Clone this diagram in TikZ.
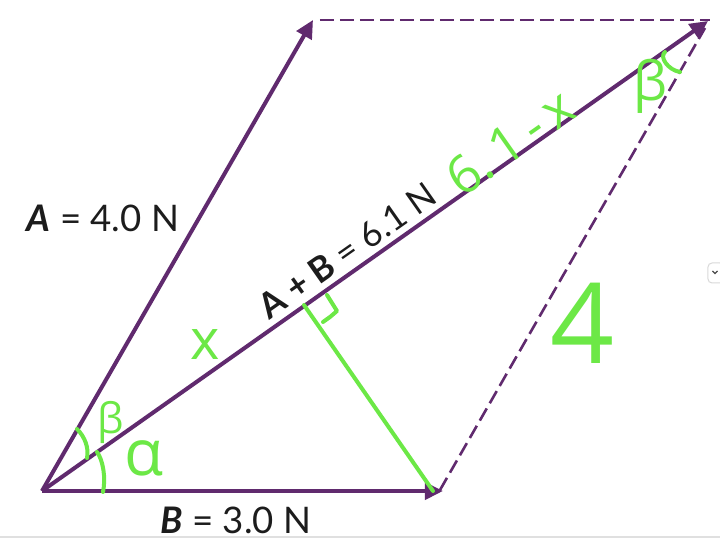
\documentclass[tikz,border=0pt]{standalone}
\usepackage{fontspec}
\setmainfont{Lato}
\newfontfamily\hand{Open Sans}
\usetikzlibrary{arrows.meta}
\definecolor{vpurple}{RGB}{96,42,110}
\definecolor{hgreen}{RGB}{108,232,70}
\definecolor{ink}{RGB}{28,28,28}
\begin{document}
\begin{tikzpicture}[x=0.5pt,y=-0.5pt,
  vec/.style={draw=vpurple, line width=2pt, -{Triangle[length=9pt,width=8.5pt]}},
  guide/.style={draw=vpurple, line width=1.3pt, dash pattern=on 7pt off 3pt},
  greenstroke/.style={draw=hgreen, line width=2pt, line cap=round, line join=round},
  hw/.style={text=hgreen, inner sep=0pt},
  lab/.style={text=ink, inner sep=0pt, font=\fontsize{18.3}{21}\selectfont}]
\useasboundingbox[fill=white] (0,0) rectangle (720,539);
% faint frame line at bottom
\draw[black!12, line width=0.6pt] (0,537) -- (720,537);
% small UI button at right edge
\draw[black!15, fill=white, rounded corners=2pt, line width=0.5pt] (708,263) rectangle (724,283);
\draw[black!70, line width=0.6pt] (712.5,271) -- (715,273.5) -- (717.5,271);

\coordinate (O) at (42,491);
\coordinate (Atip) at (313,20);
\coordinate (Btip) at (443,491);
\coordinate (Rtip) at (708,21);
\coordinate (T1) at (320,20);
\coordinate (T2) at (710,20);
\coordinate (D1) at (440,490);
\coordinate (D2) at (705,28);
\coordinate (F) at (304,305);
\coordinate (G) at (433,491);

% dashed parallelogram sides
\draw[guide] (T1) -- (T2);
\draw[guide] (D1) -- (D2);

% vectors
\draw[vec] (O) -- (Atip);
\draw[vec] (O) -- (Btip);
\draw[vec] (O) -- (Rtip);

% labels
\node[lab] (la) at (103,218) {\textbf{\textit{A}} = 4.0 N};
\node[lab] (lb) at (236,520) {\textbf{\textit{B}} = 3.0 N};
\node[lab, rotate=35.1, font=\fontsize{17.5}{20}\selectfont] (lr) at (347,251) {\textbf{A + B} = 6.1 N};

% green annotations
\draw[greenstroke] (F) -- (G);
\draw[greenstroke] (327,295) -- (337,311) -- (330,317) -- (323,322);
\draw[greenstroke] (77,429) .. controls (85,437) and (89,448) .. (87,458);
\draw[greenstroke] (97,452) .. controls (103,460) and (106,478) .. (103,492);
\draw[greenstroke] (665,52) .. controls (659,57) and (668,70) .. (680,72);

\node[hw, font=\hand\fontsize{28}{30}\selectfont] (hx) at (205,345) {x};
\node[hw, font=\hand\fontsize{26}{28}\selectfont, rotate=35.1] (hx2) at (510,142) {6.\,1\,-\,x};
\node[hw, font=\hand\fontsize{56}{60}\selectfont] (h4) at (583,323) {4};
\node[hw, font=\hand\fontsize{27}{30}\selectfont] (hb1) at (650,86) {β};
\node[hw, font=\hand\fontsize{21}{24}\selectfont] (hb2) at (111,422) {β};
\node[hw, font=\hand\fontsize{32}{34}\selectfont] (ha) at (144,458) {α};
\end{tikzpicture}
\end{document}
